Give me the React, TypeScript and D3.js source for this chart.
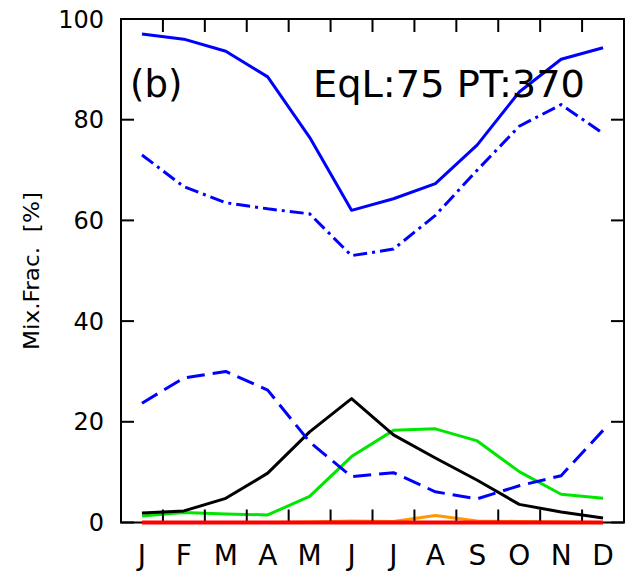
import React from "react";
import * as d3 from "d3";

const months = ["J", "F", "M", "A", "M", "J", "J", "A", "S", "O", "N", "D"];
const yTicks = [0, 20, 40, 60, 80, 100];

const blueSolid = [97, 96, 93.6, 88.5, 76.5, 62, 64.3, 67.3, 75, 85.5, 92, 94.3];
const blueDashDot = [73, 66.7, 63.5, 62.3, 61.3, 53, 54.3, 61, 70, 78.7, 83, 77.3];
const blueDashed = [23.7, 28.7, 30, 26.3, 16, 9.1, 9.9, 6.1, 4.7, 7.3, 9.3, 18.3];
const black = [1.9, 2.3, 4.8, 9.8, 18, 24.6, 17.4, 12.8, 8.4, 3.6, 2.1, 0.9];
const green = [1.3, 2.0, 1.7, 1.5, 5.2, 13.1, 18.3, 18.6, 16.2, 10.1, 5.6, 4.8];
const orange = [0, 0, 0, 0, 0.1, 0.3, 0.2, 1.4, 0.3, 0.2, 0.1, 0];
const red = [0, 0, 0, 0, 0, 0, 0, 0, 0, 0, 0, 0];

const seriesList = [
  { name: "orange", values: orange, color: "#ff9900", dash: "", width: 3 },
  { name: "green", values: green, color: "#00e600", dash: "", width: 3 },
  { name: "black", values: black, color: "#000000", dash: "", width: 3 },
  { name: "blueDashed", values: blueDashed, color: "#0000ff", dash: "18,8", width: 3 },
  { name: "blueDashDot", values: blueDashDot, color: "#0000ff", dash: "14,5,3,5", width: 3 },
  { name: "blueSolid", values: blueSolid, color: "#0000ff", dash: "", width: 3 },
];
const redSeries = { name: "red", values: red, color: "#ff0000", width: 4 };

const W = 637;
const H = 585;
const left = 121;
const right = 624;
const top = 19;
const bottom = 522.5;

export default function App() {
  const x = d3.scaleLinear().domain([0, 12]).range([left, right]);
  const y = d3.scaleLinear().domain([0, 100]).range([bottom, top]);
  const line = d3
    .line<number>()
    .x((_, i) => x(i + 0.5))
    .y((d) => y(d));
  const font = "'DejaVu Sans', sans-serif";
  const tickLen = 13;

  return (
    <svg width={W} height={H} style={{ position: "absolute", left: 0, top: 0, background: "#fff" }}>
      <rect x={0} y={0} width={W} height={H} fill="#fff" />
      {seriesList.map((s) => (
        <path
          key={s.name}
          d={line(s.values) || ""}
          fill="none"
          stroke={s.color}
          strokeWidth={s.width}
          strokeDasharray={s.dash || undefined}
          strokeLinejoin="round"
        />
      ))}
      {/* frame */}
      <rect x={left} y={top} width={right - left} height={bottom - top} fill="none" stroke="#000" strokeWidth={2} />
      {/* x ticks (month boundaries) */}
      {d3.range(1, 12).map((i) => (
        <g key={"xt" + i}>
          <line x1={x(i)} x2={x(i)} y1={bottom} y2={bottom - tickLen} stroke="#000" strokeWidth={2} />
          <line x1={x(i)} x2={x(i)} y1={top} y2={top + tickLen} stroke="#000" strokeWidth={2} />
        </g>
      ))}
      {/* y ticks */}
      {yTicks.map((t) => (
        <g key={"yt" + t}>
          <line x1={left} x2={left + tickLen} y1={y(t)} y2={y(t)} stroke="#000" strokeWidth={2} />
          <line x1={right} x2={right - tickLen} y1={y(t)} y2={y(t)} stroke="#000" strokeWidth={2} />
          <text
            x={104}
            y={y(t)}
            dy="0.36em"
            textAnchor="end"
            fontFamily={font}
            fontSize={24}
            fill="#000"
          >
            {t}
          </text>
        </g>
      ))}
      {/* red series drawn over the frame */}
      <path
        d={line(redSeries.values) || ""}
        fill="none"
        stroke={redSeries.color}
        strokeWidth={redSeries.width}
      />
      {/* month labels */}
      {months.map((m, i) => (
        <text
          key={"m" + i}
          x={x(i + 0.5)}
          y={565}
          textAnchor="middle"
          fontFamily={font}
          fontSize={28}
          fill="#000"
        >
          {m}
        </text>
      ))}
      {/* y axis label */}
      <text
        transform={`translate(39,271) rotate(-90)`}
        textAnchor="middle"
        fontFamily={font}
        fontSize={21}
        fill="#000"
        textLength={158}
        lengthAdjust="spacingAndGlyphs"
        style={{ whiteSpace: "pre" }}
      >
        {"Mix.Frac.  [%]"}
      </text>
      {/* annotations */}
      <text x={130} y={97} fontFamily={font} fontSize={37} fill="#000">
        (b)
      </text>
      <text x={313} y={97} fontFamily={font} fontSize={37} fill="#000" textLength={272} lengthAdjust="spacingAndGlyphs">
        EqL:75 PT:370
      </text>
    </svg>
  );
}
